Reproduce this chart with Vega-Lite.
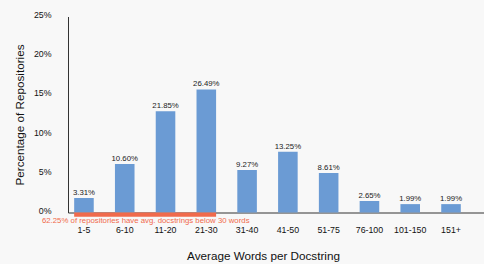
{
  "$schema": "https://vega.github.io/schema/vega-lite/v6.json",
  "width": 416,
  "height": 196,
  "autosize": {"type": "none"},
  "padding": {"left": 68, "top": 16.5, "right": 0, "bottom": 51.5},
  "background": "#f8f8f8",
  "config": {"view": {"stroke": null}, "font": "Liberation Sans"},
  "datasets": {
    "main": [
      {"bin": "1-5", "value": 1.85, "label": "3.31%"},
      {"bin": "6-10", "value": 6.19, "label": "10.60%"},
      {"bin": "11-20", "value": 12.9, "label": "21.85%"},
      {"bin": "21-30", "value": 15.7, "label": "26.49%"},
      {"bin": "31-40", "value": 5.42, "label": "9.27%"},
      {"bin": "41-50", "value": 7.75, "label": "13.25%"},
      {"bin": "51-75", "value": 5.04, "label": "8.61%"},
      {"bin": "76-100", "value": 1.47, "label": "2.65%"},
      {"bin": "101-150", "value": 1.07, "label": "1.99%"},
      {"bin": "151+", "value": 1.07, "label": "1.99%"}
    ]
  },
  "encoding": {
    "x": {
      "field": "bin", "type": "nominal", "sort": null, "bandPosition": 0.5,
      "scale": {
        "domain": ["1-5", "6-10", "11-20", "21-30", "31-40", "41-50", "51-75", "76-100", "101-150", "151+"],
        "paddingInner": 0.52, "paddingOuter": 0.36, "align": 0.21
      },
      "axis": {
        "title": "Average Words per Docstring",
        "titleFontSize": 11.7, "titleFontWeight": "normal", "titleColor": "#111",
        "titlePadding": 16, "titleX": 195,
        "labelAngle": 0, "labelFontSize": 8.8, "labelColor": "#111", "labelPadding": 13,
        "ticks": false, "tickSize": 0,
        "domainColor": "#333", "domainWidth": 1, "grid": false
      }
    },
    "y": {
      "field": "value", "type": "quantitative",
      "scale": {"domain": [0, 25], "nice": false},
      "axis": {
        "title": "Percentage of Repositories",
        "titleFontSize": 11.7, "titleFontWeight": "normal", "titleColor": "#111",
        "titlePadding": 8,
        "values": [0, 5, 10, 15, 20, 25],
        "labelExpr": "datum.value + '%'",
        "labelOverlap": false,
        "labelOffset": -2,
        "labelFontSize": 8.8, "labelColor": "#111", "labelPadding": 17,
        "ticks": false, "tickSize": 0,
        "domainColor": "#333", "domainWidth": 1, "grid": false
      }
    }
  },
  "layer": [
    {
      "data": {"name": "main"},
      "mark": {"type": "bar", "color": "#6b9bd4"}
    },
    {
      "data": {"name": "main"},
      "mark": {"type": "text", "fontSize": 7.8, "color": "#222", "dy": -3, "baseline": "alphabetic"},
      "encoding": {"text": {"field": "label"}}
    },
    {
      "data": {"values": [{"bin": "1-5", "b": "21-30", "value": 0, "v2": -0.55}]},
      "mark": {"type": "rect", "color": "#f06a4c"},
      "encoding": {
        "x": {"field": "bin", "type": "nominal", "bandPosition": 0},
        "x2": {"field": "b", "bandPosition": 1},
        "y2": {"field": "v2"}
      }
    },
    {
      "data": {"values": [{"bin": "11-20", "value": -1.1, "t": "62.25% of repositories have avg. docstrings below 30 words"}]},
      "mark": {"type": "text", "fontSize": 7.8, "color": "#f06a4c", "baseline": "middle", "align": "center", "dx": -10},
      "encoding": {
        "x": {"field": "bin", "type": "nominal", "bandPosition": 0},
        "text": {"field": "t"}
      }
    }
  ]
}
